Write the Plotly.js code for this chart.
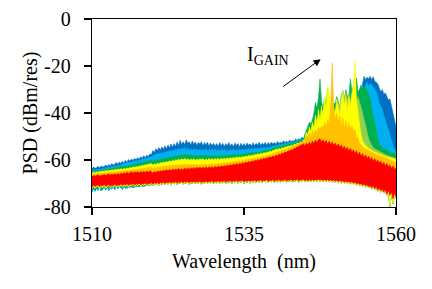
<!DOCTYPE html>
<html><head><meta charset="utf-8">
<script src="https://cdn.plot.ly/plotly-3.0.1.min.js"></script>
<style>html,body{margin:0;padding:0;background:#fff}#c{width:432px;height:289px}</style>
</head><body><div id="c"></div>
<script>
const wavelengths = [
1510,1510.25,1510.5,1510.75,1511,1511.25,1511.5,1511.75,1512,1512.25,1512.5,1512.75,1513,1513.25,1513.5,1513.75,1514,1514.25,1514.5,1514.75,
1515,1515.25,1515.5,1515.75,1516,1516.25,1516.5,1516.75,1517,1517.25,1517.5,1517.75,1518,1518.25,1518.5,1518.75,1519,1519.25,1519.5,1519.75,
1520,1520.25,1520.5,1520.75,1521,1521.25,1521.5,1521.75,1522,1522.25,1522.5,1522.75,1523,1523.25,1523.5,1523.75,1524,1524.25,1524.5,1524.75,
1525,1525.25,1525.5,1525.75,1526,1526.25,1526.5,1526.75,1527,1527.25,1527.5,1527.75,1528,1528.25,1528.5,1528.75,1529,1529.25,1529.5,1529.75,
1530,1530.25,1530.5,1530.75,1531,1531.25,1531.5,1531.75,1532,1532.25,1532.5,1532.75,1533,1533.25,1533.5,1533.75,1534,1534.25,1534.5,1534.75,
1535,1535.25,1535.5,1535.75,1536,1536.25,1536.5,1536.75,1537,1537.25,1537.5,1537.75,1538,1538.25,1538.5,1538.75,1539,1539.25,1539.5,1539.75,
1540,1540.25,1540.5,1540.75,1541,1541.25,1541.5,1541.75,1542,1542.25,1542.5,1542.75,1543,1543.25,1543.5,1543.75,1544,1544.25,1544.5,1544.75,
1545,1545.25,1545.5,1545.75,1546,1546.25,1546.5,1546.75,1547,1547.25,
1547.5,1547.75,1548,1548.25,1548.5,1548.75,1549,1549.25,1549.5,1549.75,
1550,1550.25,1550.5,1550.75,1551,1551.25,1551.5,1551.75,1552,1552.25,
1552.5,1552.75,1553,1553.25,1553.5,1553.75,1554,1554.25,1554.5,1554.75,
1555,1555.25,1555.5,1555.75,1556,1556.25,1556.5,1556.75,1557,1557.25,
1557.5,1557.75,1558,1558.25,1558.5,1558.75,1559,1559.25,1559.5,1559.75,1560];

const darkBlueTop = [
-63.7,-63.0,-63.5,-63.3,-62.7,-63.4,-62.5,-63.0,-62.8,-62.1,-62.8,-61.9,-62.4,-61.5,-62.1,-61.8,-61.0,-61.8,-60.9,-61.4,
-60.6,-61.2,-60.2,-60.8,-59.8,-60.5,-59.6,-60.2,-59.3,-59.9,-59.0,-59.7,-58.6,-59.3,-58.2,-59.0,-57.9,-58.6,-57.4,-57.9,
-56.0,-56.8,-55.2,-56.1,-54.7,-55.8,-54.4,-55.5,-54.0,-55.2,-53.6,-54.9,-53.2,-54.6,-53.0,-54.3,-52.3,-53.9,-51.7,-53.4,
-52.2,-53.5,-51.4,-53.0,-52.2,-53.6,-51.9,-53.4,-52.3,-53.8,-52.5,-53.3,-52.2,-54.0,-52.6,-53.6,-52.4,-54.2,-52.7,-53.9,
-52.9,-54.1,-53.0,-54.3,-52.6,-53.9,-52.9,-54.4,-53.0,-54.0,-52.5,-54.2,-53.1,-54.5,-52.8,-53.8,-53.0,-54.5,-52.9,-54.1,
-53.0,-54.2,-52.8,-53.7,-53.1,-54.0,-52.7,-53.9,-52.9,-53.6,-52.4,-53.8,-52.8,-53.5,-52.5,-53.7,-52.6,-53.4,-52.4,-53.2,
-52.6,-53.3,-52.1,-53.0,-52.4,-52.9,-51.8,-52.7,-52.0,-52.6,-51.5,-52.3,-51.6,-52.2,-51.0,-51.9,-50.9,-51.5,-50.3,-50.9,
-50.5,-50.2,-50.0,-50.3,-50.0,-50.2,-50.0,-50.3,-50.0,-50.2,
-50.5,-50.2,-50.0,-50.3,-50.0,-50.2,-50.0,-50.3,-50.0,-50.2,
-50.5,-50.2,-50.0,-50.3,-50.0,-50.2,-50.0,-50.3,-50.0,-50.2,
-50.5,-50.2,-50.0,-50.3,-50.0,-50.2,-50.0,-50.3,-27.5,-24.4,
-26,-24.8,-25.5,-24.4,-26,-24.6,-26.5,-27,-27.5,-29.5,
-31,-30,-32,-31.5,-33,-34.5,-34,-37,-39,-42,-46];

const lightBlueTop = [
-64.5,-64.1,-64.3,-64.0,-64.1,-63.8,-63.9,-63.5,-63.7,-63.2,-63.4,-62.9,-63.1,-62.7,-62.9,-62.5,-62.6,-62.1,-62.3,-61.9,
-61.8,-61.3,-61.5,-61.0,-61.2,-60.8,-61.0,-60.4,-60.6,-60.2,-60.4,-59.8,-60.1,-59.5,-59.7,-59.2,-59.4,-58.8,-59.0,-58.4,
-58.2,-57.7,-57.9,-57.3,-57.6,-57.0,-57.3,-56.7,-57.0,-56.3,-56.6,-56.0,-56.4,-55.7,-56.1,-55.4,-55.8,-55.1,-55.6,-54.9,
-55.4,-54.7,-55.6,-54.8,-55.8,-55.1,-56.0,-55.1,-55.8,-55.2,-56.1,-55.3,-56.2,-55.4,-55.9,-55.2,-56.3,-55.5,-56.1,-55.3,
-56.0,-55.3,-56.2,-55.5,-56.3,-55.4,-56.0,-55.3,-56.2,-55.6,-56.4,-55.5,-56.1,-55.3,-56.3,-55.5,-56.1,-55.4,-56.0,-55.2,
-55.9,-55.3,-55.7,-55.1,-55.8,-55.0,-55.6,-54.9,-55.4,-54.8,-55.3,-54.7,-55.1,-54.5,-55.0,-54.6,-54.9,-54.3,-54.6,-54.0,
-54.1,-53.6,-54.0,-53.3,-53.7,-53.1,-53.5,-52.8,-53.2,-52.6,-52.8,-52.2,-52.5,-52.0,-52.1,-51.5,-51.8,-51.2,-51.4,-50.9,
-51,-51.2,-51,-51.2,-51,-51.2,-51,-51.2,-51,-51.2,
-51,-51.2,-51,-51.2,-51,-51.2,-51,-51.2,-51,-51.2,
-51,-51.2,-51,-51.2,-51,-51.2,-51,-51.2,-51,-51.2,
-51,-51.2,-51,-51.2,-51,-51.2,-51,-51.2,-51,-51.2,
-28,-27,-28.5,-27.5,-28,-29,-30.5,-31,-33,-36,
-37,-38.5,-41,-43,-45.5,-47,-50,-52,-53.5,-55.5,-56];

const greenTop = [
-65.1,-64.7,-64.9,-64.6,-64.7,-64.4,-64.5,-64.1,-64.2,-63.9,-64.0,-63.7,-63.7,-63.4,-63.5,-63.2,-63.3,-62.9,-63.0,-62.7,
-63.0,-62.6,-62.7,-62.3,-62.4,-62.0,-62.2,-61.7,-61.9,-61.6,-61.6,-61.3,-61.3,-61.0,-61.0,-60.7,-60.8,-60.5,-60.4,-60.1,
-60.7,-60.2,-60.3,-59.9,-60.1,-59.5,-59.8,-59.3,-59.6,-59.0,-59.3,-58.7,-59.0,-58.4,-58.7,-58.1,-58.5,-57.8,-58.3,-57.6,
-58.0,-57.4,-58.2,-57.6,-58.3,-57.7,-58.5,-57.8,-58.4,-57.9,-58.6,-57.8,-58.5,-57.9,-58.3,-57.7,-58.6,-57.9,-58.4,-57.8,
-58.5,-57.9,-58.6,-57.8,-58.4,-57.7,-58.3,-57.8,-58.5,-57.6,-58.2,-57.7,-58.3,-57.5,-58.1,-57.6,-58.0,-57.4,-58.0,-57.3,
-57.7,-57.1,-57.5,-57.0,-57.4,-56.8,-57.2,-56.7,-57.0,-56.4,-56.8,-56.2,-56.5,-56.0,-56.2,-55.8,-55.9,-55.4,-55.5,-55.0,
-54.9,-54.3,-54.6,-54.1,-54.4,-53.8,-54.0,-53.5,-53.8,-53.2,-53.4,-52.9,-53.1,-52.5,-52.7,-52.1,-52.3,-51.8,-51.9,-51.3,
-49,-47.5,-46,-44,-44.5,-43,-40,-35.5,-38,-33.5,
-25.5,-35,-38,-33.5,-36.5,-29.5,-35,-38,-37,-36,
-36,-33,-35,-38.5,-33,-30.5,-34.5,-30,-33,-33,
-25.5,-31,-29,-32,-25,-31,-30,-28,-30,-28.5,
-29.5,-30,-32,-34,-38,-41.5,-44,-47.5,-50.5,-53.5,
-54.3,-54.8,-55.2,-55.5,-55.8,-56.2,-56.4,-56.8,-57,-57.3,-57.6];

const lightGreenTopRight = [
-52,-52,-52,-52,-52,-52,-52,-52,-52,-52,
-52,-52,-52,-52,-52,-52,-52,-52,-52,-52,
-52,-52,-36,-37,-33,-30.5,-34,-31,-35,-31.5,
-35,-31,-28,-32,-35.7,-33,-36,-37.5,-40,-43,
-46,-48.5,-51,-52.5,-54,-54.8,-55.2,-55.6,-56,-56.4,
-56.8,-57.1,-57.4,-57.7,-58,-58.3,-58.5,-58.7,-58.9,-59.1,-59.3];

const yellowTop = [
-65.6,-65.2,-65.4,-65.1,-65.2,-64.9,-65.0,-64.7,-64.9,-64.5,-64.7,-64.4,-64.6,-64.2,-64.4,-64.0,-64.2,-63.9,-64.0,-63.7,
-64.0,-63.6,-63.8,-63.4,-63.6,-63.2,-63.4,-62.9,-63.2,-62.8,-62.9,-62.5,-62.7,-62.2,-62.4,-62.0,-62.1,-61.7,-61.8,-61.4,
-62.2,-61.6,-61.9,-61.4,-61.7,-61.1,-61.4,-60.9,-61.2,-60.7,-60.9,-60.4,-60.7,-60.1,-60.5,-59.9,-60.2,-59.6,-60.1,-59.5,
-59.9,-59.3,-60.0,-59.5,-60.1,-59.6,-60.0,-59.4,-60.2,-59.6,-60.0,-59.5,-59.9,-59.4,-60.1,-59.6,-60.0,-59.4,-59.9,-59.5,
-59.9,-59.4,-59.8,-59.3,-59.9,-59.3,-59.7,-59.2,-59.7,-59.1,-59.5,-59.0,-59.4,-58.9,-59.3,-58.7,-59.2,-58.6,-59.0,-58.5,
-58.8,-58.3,-58.6,-58.0,-58.4,-57.9,-58.2,-57.6,-57.9,-57.3,-57.7,-57.1,-57.4,-56.9,-57.1,-56.6,-56.8,-56.2,-56.5,-55.9,
-55.9,-55.3,-55.6,-55.0,-55.4,-54.8,-55.0,-54.4,-54.6,-54.0,-54.3,-53.7,-53.9,-53.3,-53.4,-52.8,-53.0,-52.4,-52.5,-51.8,
-51,-48,-49.5,-46,-48,-44,-46.5,-41,-44.5,-38.5,
-43,-37,-41,-33,-38,-28.7,-31,-38,-33,-38,
-40,-34,-38,-41,-35,-31,-37,-33,-39,-33,
-38,-32,-29,-18,-34,-40,-45,-49,-52,-53,
-54,-54.5,-55,-55.5,-56,-56.3,-56.6,-56.9,-57.2,-57.4,
-57.8,-58,-58.2,-58.4,-58.6,-58.8,-59,-59.2,-59.4,-59.6,-59.7];

const orangeTop = [
-66.2,-65.8,-66.0,-65.7,-65.9,-65.5,-65.7,-65.4,-65.6,-65.2,-65.5,-65.1,-65.4,-65.1,-65.3,-64.9,-65.2,-64.8,-65.0,-64.7,
-65.0,-64.6,-64.8,-64.4,-64.6,-64.3,-64.5,-64.1,-64.3,-63.9,-64.1,-63.7,-63.9,-63.5,-63.7,-63.4,-63.5,-63.1,-63.3,-62.9,
-63.7,-63.2,-63.4,-63.0,-63.3,-62.8,-63.1,-62.6,-62.9,-62.4,-62.8,-62.2,-62.6,-62.1,-62.4,-61.9,-62.3,-61.8,-62.2,-61.7,
-62.1,-61.6,-62.2,-61.7,-62.3,-61.8,-62.2,-61.7,-62.1,-61.6,-62.3,-61.8,-62.2,-61.7,-62.0,-61.6,-62.2,-61.6,-62.0,-61.5,
-62.0,-61.5,-61.8,-61.3,-61.7,-61.2,-61.6,-61.0,-61.4,-60.9,-61.3,-60.8,-61.1,-60.6,-60.9,-60.4,-60.7,-60.2,-60.6,-60.0,
-60.3,-59.8,-60.1,-59.6,-59.9,-59.3,-59.6,-59.1,-59.3,-58.8,-59.1,-58.6,-58.8,-58.2,-58.5,-57.9,-58.1,-57.6,-57.7,-57.1,
-57.2,-56.5,-56.7,-56.1,-56.4,-55.7,-55.9,-55.2,-55.5,-54.7,-55.0,-54.3,-54.4,-53.7,-53.9,-53.1,-53.3,-52.5,-52.6,-51.8,
-51.5,-49.5,-50.5,-48.5,-50,-47.5,-49.5,-47,-48.5,-46,
-47.5,-45.5,-46.5,-44,-46,-43,-44,-39,-18.7,-38,
-43,-40,-44,-41,-46,-42,-47,-43,-47.5,-44,
-47,-45.5,-48,-47,-50,-50.5,-53,-53.5,-54.5,-55,
-55.2,-55.6,-56,-56.3,-56.7,-57,-57.3,-57.5,-57.8,-58,
-58.3,-58.5,-58.8,-59,-59.2,-59.5,-59.7,-60,-60.3,-60.7,-61.2];

const redTop = [
-67.2,-66.5,-66.9,-66.7,-66.3,-66.9,-66.4,-66.6,-66.1,-66.6,-66.3,-65.9,-66.5,-66.0,-66.3,-65.8,-66.3,-65.8,-66.1,-65.6,
-66.0,-65.4,-65.8,-65.2,-65.7,-65.4,-65.0,-65.6,-65.0,-65.4,-64.9,-65.4,-64.9,-65.3,-64.8,-65.3,-64.7,-65.2,-64.6,-65.0,
-65.6,-64.9,-65.3,-64.7,-65.1,-64.5,-65.0,-64.3,-64.7,-64.1,-64.6,-64.0,-64.5,-63.9,-64.4,-63.8,-64.2,-63.6,-64.3,-63.7,
-64.1,-63.5,-63.9,-63.4,-64.0,-63.3,-63.8,-63.2,-63.7,-63.1,-63.6,-63.0,-63.7,-63.1,-63.5,-62.9,-63.5,-62.9,-63.4,-62.8,
-63.4,-62.7,-63.2,-62.6,-63.1,-62.4,-62.9,-62.3,-62.8,-62.1,-62.6,-61.9,-62.4,-61.7,-62.1,-61.5,-62.0,-61.3,-61.8,-61.1,
-61.5,-60.9,-61.3,-60.6,-61.0,-60.4,-60.7,-60.0,-60.5,-59.8,-60.2,-59.5,-59.9,-59.2,-59.6,-59.0,-59.2,-58.6,-58.9,-58.2,
-58.7,-57.9,-58.2,-57.5,-57.8,-57.0,-57.3,-56.5,-56.8,-56.0,-56.3,-55.5,-55.8,-55.0,-55.1,-54.4,-54.4,-53.7,-53.6,-53.0,
-54.2,-52.8,-53.7,-52.4,-53.4,-51.9,-53.0,-51.5,-52.7,-51.3,
-51.0,-52.4,-51.4,-52.8,-51.7,-53.2,-52.0,-53.4,-52.3,-53.8,
-52.8,-54.2,-53.1,-54.6,-53.6,-55.1,-54.1,-55.6,-54.6,-56.2,
-55.0,-56.7,-55.6,-57.2,-56.1,-57.8,-56.7,-58.3,-57.2,-58.9,
-57.8,-59.4,-58.3,-60.0,-58.9,-60.4,-59.4,-61.0,-60.0,-61.4,
-60.4,-61.9,-61.0,-62.4,-61.5,-63,-62,-63.5,-62.5,-64,-63.4];

const redLow = [
-71.5,-70.6,-71.3,-70.9,-70.5,-71.4,-70.7,-71.1,-70.4,-71.2,-70.8,-70.3,-71.3,-70.6,-71.0,-70.2,-71.1,-70.5,-70.8,-70.1,
-70.9,-70.3,-70.7,-70.0,-70.8,-70.2,-70.5,-69.9,-70.7,-70.1,-70.4,-69.8,-70.6,-70.0,-70.3,-69.7,-70.5,-69.9,-70.2,-69.6,
-70.3,-69.7,-70.1,-69.5,-70.2,-69.6,-69.9,-69.4,-70.0,-69.5,-69.8,-69.3,-69.9,-69.4,-69.7,-69.2,-69.9,-69.3,-69.6,-69.1,
-69.7,-69.2,-69.5,-69.0,-69.8,-69.2,-69.5,-69.0,-69.6,-69.1,-69.4,-68.9,-69.7,-69.1,-69.4,-68.9,-69.5,-69.0,-69.3,-68.8,
-69.6,-69.0,-69.3,-68.8,-69.4,-68.9,-69.2,-68.7,-69.5,-68.9,-69.2,-68.7,-69.4,-68.8,-69.1,-68.6,-69.3,-68.8,-69.0,-68.5,
-69.4,-68.8,-69.1,-68.6,-69.2,-68.7,-69.0,-68.5,-69.2,-68.7,-68.9,-68.4,-69.1,-68.6,-68.8,-68.3,-69.1,-68.6,-68.8,-68.3,
-69.1,-68.5,-68.8,-68.3,-69.0,-68.5,-68.7,-68.2,-69.0,-68.5,-68.7,-68.2,-68.9,-68.4,-68.6,-68.1,-68.9,-68.4,-68.6,-68.1,
-68.8,-68.4,-68.8,-68.4,-68.7,-68.3,-68.7,-68.3,-68.6,-68.2,
-68.6,-68.2,-68.7,-68.3,-68.7,-68.3,-68.8,-68.4,-68.9,-68.5,
-69.0,-68.6,-69.1,-68.7,-69.2,-68.8,-69.4,-69.0,-69.5,-69.1,
-69.7,-69.2,-69.9,-69.4,-70.2,-69.7,-70.4,-70.0,-70.7,-70.2,
-71.0,-70.5,-71.4,-70.8,-71.9,-71.0,-72.2,-71.4,-72.8,-71.8,
-73.2,-72.3,-73.6,-72.6,-74.5,-73.0,-75.0,-73.6,-76.5,-74.0,-75.5];

const yellowLow = [
-72.2,-71.0,-72.0,-71.3,-70.9,-72.3,-71.0,-71.8,-70.8,-72.1,-71.2,-70.7,-71.9,-71.0,-71.6,-70.6,-71.8,-70.9,-71.4,-70.5,
-71.5,-70.7,-71.3,-70.4,-71.6,-70.6,-71.0,-70.3,-71.3,-70.5,-70.9,-70.2,-71.2,-70.4,-70.8,-70.1,-71.1,-70.3,-70.7,-70.0,
-70.9,-70.1,-70.7,-69.9,-70.9,-70.0,-70.4,-69.8,-70.6,-69.9,-70.3,-69.7,-70.7,-69.8,-70.2,-69.6,-70.5,-69.7,-70.1,-69.5,
-70.3,-69.6,-70.0,-69.4,-70.5,-69.6,-70.0,-69.4,-70.2,-69.5,-69.9,-69.3,-70.4,-69.5,-69.9,-69.3,-70.1,-69.4,-69.8,-69.2,
-70.2,-69.4,-69.8,-69.2,-70.1,-69.3,-69.7,-69.1,-70.1,-69.3,-69.7,-69.1,-70.0,-69.2,-69.6,-69.0,-69.9,-69.2,-69.5,-68.9,
-70.0,-69.2,-69.6,-69.0,-69.9,-69.1,-69.5,-68.9,-69.8,-69.1,-69.4,-68.8,-69.7,-69.0,-69.3,-68.7,-69.7,-69.0,-69.3,-68.7,
-69.7,-68.9,-69.3,-68.7,-69.6,-68.9,-69.2,-68.6,-69.6,-68.9,-69.2,-68.6,-69.5,-68.8,-69.1,-68.5,-69.5,-68.8,-69.1,-68.5,
-69.3,-68.8,-69.3,-68.8,-69.2,-68.7,-69.2,-68.7,-69.1,-68.6,
-69.1,-68.6,-69.2,-68.7,-69.2,-68.7,-69.3,-68.8,-69.4,-68.9,
-69.5,-69.0,-69.6,-69.1,-69.7,-69.2,-69.9,-69.4,-70.0,-69.5,
-70.2,-69.6,-70.4,-69.8,-70.7,-70.1,-70.9,-70.4,-71.2,-70.6,
-71.5,-70.9,-71.9,-71.2,-72.4,-71.4,-72.7,-71.8,-73.3,-72.2,
-73.7,-72.7,-74.1,-73.0,-75.0,-73.4,-79.8,-74.0,-78.5,-74.5,-76.5];

const tealLowStart = [
-73.6,-72.0,-73.3,-71.6,-72.9,-71.4,-73.2,-72.0,-71.4,-72.8,-71.2,-73.0,-71.5,-72.4,-71.1,-72.6,-71.2,-72.2,-71.0,-71.9,
-72.5,-70.9,-72.1,-70.8,-71.9,-70.7,-71.6,-70.8,-71.7,-70.6,-71.4,-70.6,-71.3,-70.3,-71.5,-70.4,-71.0,-70.1,-71.0,-70.0];
const greenLowStart = [
-72.9,-71.5,-72.6,-72.3,-71.2,-72.1,-71.8,-72.8,-71.3,-72.5,-71.7,-71.0,-72.2,-71.0,-71.6,-72.0,-70.9,-71.4,-71.6,-70.6,
-72.0,-70.8,-71.2,-72.2,-70.9,-71.8,-70.6,-72.0,-70.8,-71.5,-70.7,-71.6,-70.4,-71.3,-70.5,-71.1,-70.3,-71.0,-70.2,-70.7];

const seriesColors = ["#0070C0","#00B0F0","#00B050","#92D050","#FFFF00","#FFC000","#FF0000"];
const seriesNames = ["dark blue","light blue","green","light green","yellow","orange","red"];
const yTicks = [0,-20,-40,-60,-80];
const yTickText = ["0","-20","-40","-60","-80"];
const xTicks = [1510,1535,1560];
const xTickText = ["1510","1535","1560"];

const tealLow = tealLowStart.concat(yellowLow.slice(40));
const greenLow = greenLowStart.concat(yellowLow.slice(40));
const rightGrid = wavelengths.slice(140);
const tops = [darkBlueTop,lightBlueTop,greenTop,lightGreenTopRight,yellowTop,orangeTop,redTop];
const lows = [tealLow,tealLow,greenLow,yellowLow.slice(140),yellowLow,redLow,redLow];
const grids = [wavelengths,wavelengths,wavelengths,rightGrid,wavelengths,wavelengths,wavelengths];
tops.forEach((t,i)=>{
  if(t.length!==grids[i].length||lows[i].length!==grids[i].length)
    throw new Error("len "+i+" "+t.length+" "+lows[i].length);
});

const traces = tops.map((t,i)=>({
  type:"scatter", mode:"lines", name:seriesNames[i],
  x:grids[i].concat(grids[i].slice().reverse()),
  y:t.concat(lows[i].slice().reverse()),
  fill:"toself", fillcolor:seriesColors[i],
  line:{color:seriesColors[i],width:0.6}, hoverinfo:"skip"
}));

const serif = "Liberation Serif";
const layout = {
  width:432,height:289,showlegend:false,
  paper_bgcolor:"#fff",plot_bgcolor:"#fff",
  margin:{l:92,r:35.5,t:19,b:81.5},
  font:{family:serif,size:20,color:"#000"},
  xaxis:{range:[1510,1560],tickmode:"array",tickvals:xTicks,ticktext:xTickText,
    ticks:"outside",ticklen:7,tickwidth:1.3,tickcolor:"#000",showline:true,linecolor:"#000",linewidth:1.3,mirror:true,
    showgrid:false,zeroline:false,ticklabelstandoff:2,
    tickfont:{family:serif,size:20,color:"#000"},
    title:{text:"Wavelength\u00a0 (nm)",font:{family:serif,size:20,color:"#000"},standoff:9}},
  yaxis:{range:[-80,0],tickmode:"array",tickvals:yTicks,ticktext:yTickText,
    ticks:"outside",ticklen:7,tickwidth:1.3,tickcolor:"#000",showline:true,linecolor:"#000",linewidth:1.3,mirror:true,
    showgrid:false,zeroline:false,ticklabelstandoff:9,
    tickfont:{family:serif,size:20,color:"#000"},
    title:{text:"PSD (dBm/res)",font:{family:serif,size:20,color:"#000"},standoff:1}},
  annotations:[
    {x:1547.6,y:-17.1,ax:1541.2,ay:-29.2,xref:"x",yref:"y",axref:"x",ayref:"y",
     showarrow:true,arrowhead:2,arrowsize:1.4,arrowwidth:1,arrowcolor:"#000",text:""},
    {x:1538.9,y:-15.6,xref:"x",yref:"y",showarrow:false,xanchor:"center",yanchor:"middle",
     text:"I<sub>GAIN</sub>",font:{family:serif,size:20,color:"#000"}}
  ]
};
Plotly.newPlot("c",traces,layout,{displayModeBar:false,staticPlot:true});
</script></body></html>
